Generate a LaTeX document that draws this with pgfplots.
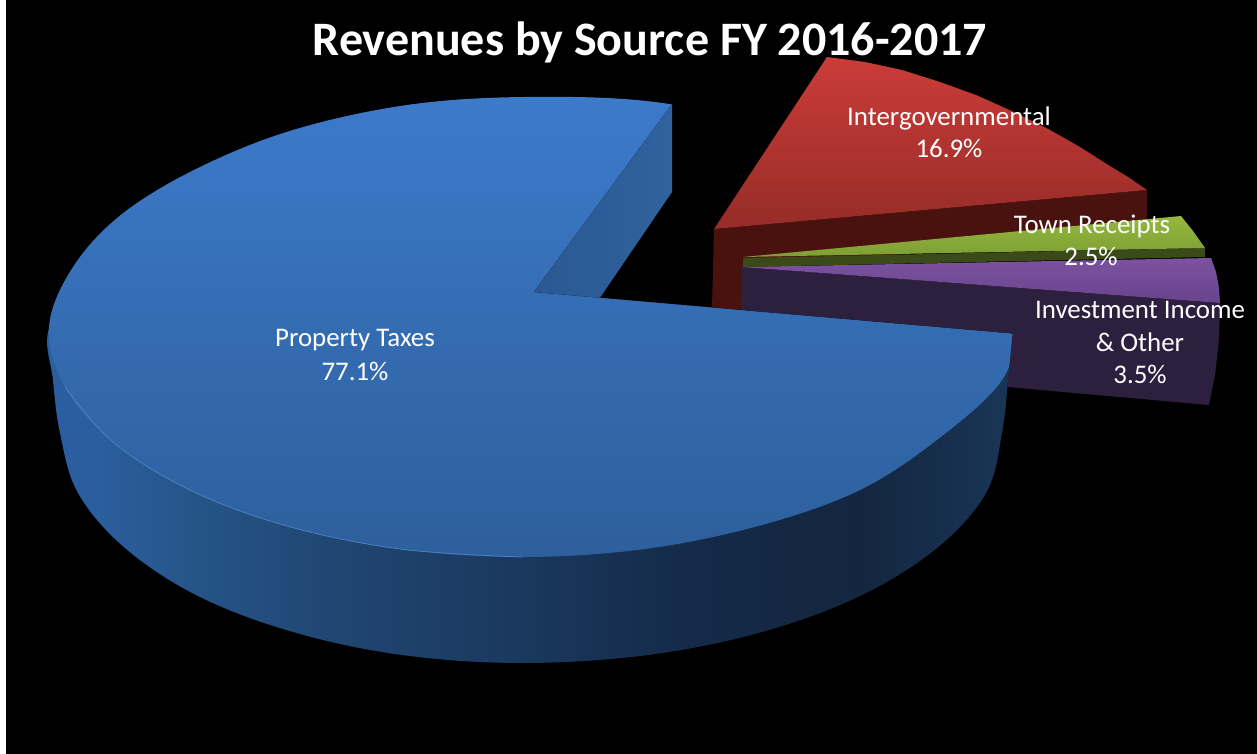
\documentclass[border=0pt]{standalone}
\usepackage{pgfplots}
\pgfplotsset{compat=1.18}
\usepackage{fontspec}
\setmainfont{Carlito}
\definecolor{redwall}{RGB}{74,18,14}
\definecolor{redtop}{RGB}{203,60,56}
\definecolor{redbot}{RGB}{150,44,40}
\definecolor{purwall}{RGB}{45,31,62}
\definecolor{purtop}{RGB}{124,82,160}
\definecolor{purbot}{RGB}{104,68,140}
\definecolor{grnwall}{RGB}{58,74,24}
\definecolor{grntop}{RGB}{148,184,62}
\definecolor{grnbot}{RGB}{126,158,52}
\definecolor{cutl}{RGB}{42,88,146}
\definecolor{cutr}{RGB}{48,98,158}
\definecolor{blutop}{RGB}{60,122,202}
\definecolor{blubot}{RGB}{45,95,155}
\definecolor{bluedge}{RGB}{74,128,196}
\pgfdeclarehorizontalshading{wallblue}{100bp}{
 rgb(0bp)=(.17,.37,.62);
 rgb(27.6bp)=(.17,.37,.62);
 rgb(32.8bp)=(.145,.33,.53);
 rgb(39.6bp)=(.125,.275,.45);
 rgb(48.4bp)=(.105,.225,.375);
 rgb(57.8bp)=(.08,.165,.285);
 rgb(66.6bp)=(.075,.15,.25);
 rgb(74.4bp)=(.10,.21,.34);
 rgb(100bp)=(.10,.21,.34)}
\tikzset{lab/.style={text=white,font=\fontsize{27}{32}\selectfont}}
\begin{document}
\begin{tikzpicture}
\begin{axis}[
 scale only axis, width=1257bp, height=754bp,
 xmin=0, xmax=1257, ymin=0, ymax=754, y dir=reverse,
 hide axis, clip=true]
% page and black ground
\addplot[fill=white,draw=none] coordinates {(0,0)(1257,0)(1257,754)(0,754)} --cycle;
\addplot[fill=black,draw=none] coordinates {(6,0)(1257,0)(1257,754)(6,754)} --cycle;
% Property Taxes: outer wall
\addplot[draw=none,shade,shading=wallblue,smooth cycle,tension=0.6] coordinates {(1012,333)(1008,380)(1002,433)(986,493)(937,548)(860,596)(762,632)(648,655)(522,663)(402,655)(293,632)(198,596)(125,548)(78,493)(60,433)(53,380)(49,328)(85,270)(220,175)(530,110)(860,170)(1000,270)};
% Property Taxes: top face, then the gap of the missing wedge
\addplot[draw=none,top color=blutop,bottom color=blubot,smooth cycle,tension=0.6] coordinates {(1013,330)(1002,380)(942,436)(862,489)(762,525)(645,549)(522,557)(400,549)(287,526)(190,490)(113,442)(65,387)(49,327)(73,267)(122,214)(198,168)(293,130)(407,105)(525,97)(655,102)(771,128)(870,164)(947,212)(995,267)};
\addplot[fill=black,draw=none] coordinates {(534,292)(700,66)(1100,66)(1100,341)} --cycle;
\addplot[draw=none,left color=cutl,right color=cutr] coordinates {(534,292)(672,104)(672,192)(600,297.7)} --cycle;
\addplot[draw=bluedge,line width=0.8bp,smooth,tension=0.6] coordinates {(65,387)(113,442)(190,490)(287,526)(400,549)(522,557)};
% Intergovernmental
\addplot[fill=redwall,draw=none] coordinates {(714,229)(1147,190)(1147,230)(744,270)(744,310)(712,307.3)} --cycle;
\addplot[draw=none,top color=redtop,bottom color=redbot] coordinates {(827,57)(865,62)(902,70)(940,82)(976,95)(1014,112)(1050,130)(1080,147)(1105,163)(1128,177)(1147,190)(714,229)} --cycle;
% Investment Income & Other
\addplot[fill=purwall,draw=none] coordinates {(742,267)(1220,303)(1219,340)(1215,375)(1209,405)(1007,387)(1009,370)(1012.5,333.4)(741,309.9)} --cycle;
\addplot[draw=none,top color=purtop,bottom color=purbot] coordinates {(742,267)(1211,258)(1216,272)(1219,288)(1220,303)} --cycle;
% Town Receipts
\addplot[fill=grnwall,draw=none] coordinates {(743,258)(1205,248)(1205,257)(743,267)} --cycle;
\addplot[draw=none,top color=grntop,bottom color=grnbot] coordinates {(743,257)(1181,216)(1193,231)(1205,248)} --cycle;
% Text
\node[text=white,font=\fontsize{48.2}{52}\selectfont\bfseries] at (axis cs:650,42) {Revenues by Source FY 2016-2017};
\node[lab] at (axis cs:355,340) {Property Taxes};
\node[lab] at (axis cs:355,371) {77.1\%};
\node[lab] at (axis cs:949,118) {Intergovernmental};
\node[lab] at (axis cs:949,148) {16.9\%};
\node[lab] at (axis cs:1092,226) {Town Receipts};
\node[lab] at (axis cs:1091,256) {2.5\%};
\node[lab] at (axis cs:1140,310) {Investment Income};
\node[lab] at (axis cs:1140,342) {\&\ Other};
\node[lab] at (axis cs:1140,374) {3.5\%};
\end{axis}
\end{tikzpicture}
\end{document}
